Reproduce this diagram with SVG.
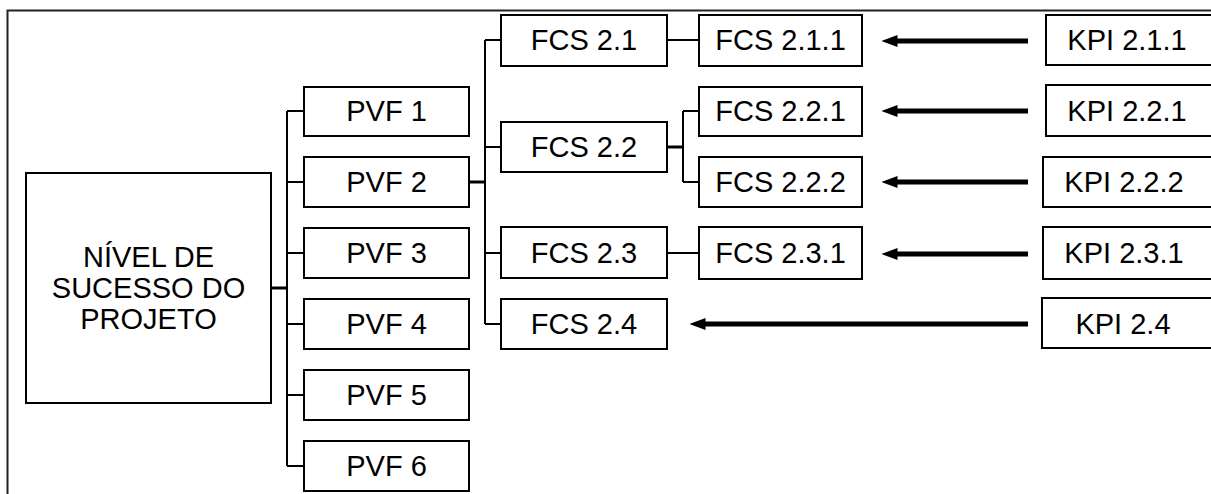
<svg xmlns="http://www.w3.org/2000/svg" width="1211" height="494" viewBox="0 0 1211 494">
<defs>
<style>
.box{fill:#fff;stroke:#000;stroke-width:2}
.t{font-family:"Liberation Sans",Arial,sans-serif;font-size:29px;fill:#000;text-anchor:middle}
.ln{fill:none;stroke:#000;stroke-width:2}
.thk{fill:none;stroke:#000;stroke-width:3}
.arr{fill:none;stroke:#000;stroke-width:5}
</style>
<marker id="ah" markerWidth="3.2" markerHeight="2.4" refX="0.1" refY="1.2" orient="auto" markerUnits="strokeWidth" viewBox="0 0 3.2 2.4">
<path d="M0,0 L3.2,1.2 L0,2.4 Z" fill="#000"/>
</marker>
</defs>
<rect width="1211" height="494" fill="#fff"/>
<path d="M7.5,494 V10.5 H1211" fill="none" stroke="#222" stroke-width="2"/>
<g id="connectors">
<path class="thk" d="M271,288 H287"/>
<path class="ln" d="M287,111 V466 M287,111 H304 M287,182 H304 M287,253 H304 M287,324 H304 M287,395 H304 M287,466 H304"/>
<path class="thk" d="M469,182 H485"/>
<path class="ln" d="M485,40 V324 M485,40 H501 M485,147 H501 M485,253 H501 M485,324 H501"/>
<path class="ln" d="M667,40 H699 M667,253 H699"/>
<path class="thk" d="M667,147 H683"/>
<path class="ln" d="M683,111 V182 M683,111 H699 M683,182 H699"/>
<path class="arr" marker-end="url(#ah)" d="M1028,41 H897"/>
<path class="arr" marker-end="url(#ah)" d="M1028,111 H897"/>
<path class="arr" marker-end="url(#ah)" d="M1028,182 H897"/>
<path class="arr" marker-end="url(#ah)" d="M1028,254 H897"/>
<path class="arr" marker-end="url(#ah)" d="M1028,324 H705"/>
</g>
<g id="root"><rect class="box" x="26" y="173" width="245" height="230"/>
<text class="t" x="148.5" y="267">NÍVEL DE</text><text class="t" x="148.5" y="298">SUCESSO DO</text><text class="t" x="148.5" y="329">PROJETO</text></g>
<g id="pvf1"><rect class="box" x="304" y="87" width="165" height="49"/><text class="t" x="386.5" y="121">PVF 1</text></g>
<g id="pvf2"><rect class="box" x="304" y="157" width="165" height="50"/><text class="t" x="386.5" y="192">PVF 2</text></g>
<g id="pvf3"><rect class="box" x="304" y="228" width="165" height="50"/><text class="t" x="386.5" y="263">PVF 3</text></g>
<g id="pvf4"><rect class="box" x="304" y="299" width="165" height="50"/><text class="t" x="386.5" y="334">PVF 4</text></g>
<g id="pvf5"><rect class="box" x="304" y="370" width="165" height="50"/><text class="t" x="386.5" y="405">PVF 5</text></g>
<g id="pvf6"><rect class="box" x="304" y="441" width="165" height="50"/><text class="t" x="386.5" y="476">PVF 6</text></g>
<g id="fcs21"><rect class="box" x="501" y="15" width="166" height="51"/><text class="t" x="584" y="50">FCS 2.1</text></g>
<g id="fcs22"><rect class="box" x="501" y="122" width="166" height="50"/><text class="t" x="584" y="157">FCS 2.2</text></g>
<g id="fcs23"><rect class="box" x="501" y="227" width="166" height="51"/><text class="t" x="584" y="263">FCS 2.3</text></g>
<g id="fcs24"><rect class="box" x="501" y="299" width="166" height="50"/><text class="t" x="584" y="334">FCS 2.4</text></g>
<g id="fcs211"><rect class="box" x="699" y="15" width="163" height="51"/><text class="t" x="780.5" y="50">FCS 2.1.1</text></g>
<g id="fcs221"><rect class="box" x="699" y="87" width="163" height="49"/><text class="t" x="780.5" y="121">FCS 2.2.1</text></g>
<g id="fcs222"><rect class="box" x="699" y="157" width="163" height="50"/><text class="t" x="780.5" y="192">FCS 2.2.2</text></g>
<g id="fcs231"><rect class="box" x="699" y="227" width="163" height="52"/><text class="t" x="780.5" y="263">FCS 2.3.1</text></g>
<g id="kpi211"><rect class="box" x="1046" y="15" width="170" height="50"/><text class="t" x="1127" y="50">KPI 2.1.1</text></g>
<g id="kpi221"><rect class="box" x="1046" y="85" width="170" height="51"/><text class="t" x="1127" y="121">KPI 2.2.1</text></g>
<g id="kpi222"><rect class="box" x="1043" y="157" width="173" height="50"/><text class="t" x="1124" y="192">KPI 2.2.2</text></g>
<g id="kpi231"><rect class="box" x="1043" y="227" width="173" height="52"/><text class="t" x="1124" y="263">KPI 2.3.1</text></g>
<g id="kpi24"><rect class="box" x="1042" y="298" width="174" height="50"/><text class="t" x="1123" y="334">KPI 2.4</text></g>
</svg>
